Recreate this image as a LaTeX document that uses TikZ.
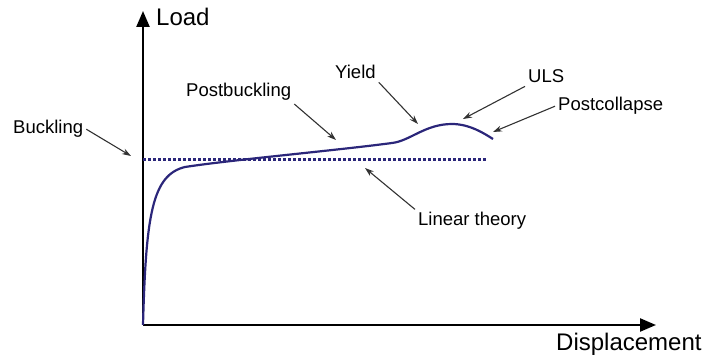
\documentclass[tikz,border=0pt]{standalone}
\usepackage{fontspec}
\setmainfont{Liberation Sans}
\usetikzlibrary{arrows.meta}
\definecolor{curvenavy}{RGB}{43,38,122}
\definecolor{pointergray}{RGB}{50,50,50}
\tikzset{
  axis/.style={line width=2.4pt, -{Triangle[length=16pt,width=13pt]}},
  pointer/.style={pointergray, line width=1.1pt, -{Stealth[length=9pt,width=6pt]}},
  curve/.style={curvenavy, line width=2.2pt},
  lintheoryline/.style={curvenavy, line width=3pt, dash pattern=on 3pt off 2pt},
  lbl/.style={font=\fontsize{18.5}{20}\selectfont, inner sep=3pt, anchor=base west},
  axlbl/.style={font=\fontsize{24}{26}\selectfont, inner sep=1pt, anchor=base west}
}
\begin{document}
\begin{tikzpicture}[x=1pt, y=-1pt]
	\useasboundingbox (0,0) rectangle (705,358);

	% axes
	\coordinate (origin) at (143,325);
	\coordinate (ytop) at (143,11);
	\coordinate (xend) at (656,325);
	\draw[axis] (origin) -- (ytop);
	\draw[axis] (origin) -- (xend);
	\node[axlbl] (load) at (155,26) {Load};
	\node[axlbl] (displacement) at (555,351) {Displacement};

	% linear theory and load path
	\draw[lintheoryline] (143,160) -- (487,160);
	\draw[curve] (origin) .. controls (146,215) and (152,175) .. (185,167)
		.. controls (230,160) and (340,150) .. (392,143)
		.. controls (410,141) and (425,124) .. (452,124)
		.. controls (470,124) and (485,134) .. (493,139);

	% labels
	\node[lbl] (buckling) at (10,134) {Buckling};
	\node[lbl] (postbuckling) at (183,97) {Postbuckling};
	\node[lbl] (yield) at (332,79) {Yield};
	\node[lbl] (uls) at (525,83) {ULS};
	\node[lbl] (postcollapse) at (555,111) {Postcollapse};
	\node[lbl] (lintheory) at (415,226) {Linear theory};

	\coordinate (bucklingpt) at (131,156);
	\coordinate (postbucklingpt) at (336,140);
	\coordinate (yieldpt) at (418,124);
	\coordinate (ulspt) at (463,119);
	\coordinate (postcollapsept) at (493,132);
	\coordinate (lintheorypt) at (365,168);

	\draw[pointer] (buckling.east) -- (bucklingpt);
	\draw[pointer] (postbuckling.south east) -- (postbucklingpt);
	\draw[pointer] (yield.south east) -- (yieldpt);
	\draw[pointer] (uls.south west) -- (ulspt);
	\draw[pointer] (postcollapse.west) -- (postcollapsept);
	\draw[pointer] (lintheory.north west) -- (lintheorypt);
\end{tikzpicture}
\end{document}
